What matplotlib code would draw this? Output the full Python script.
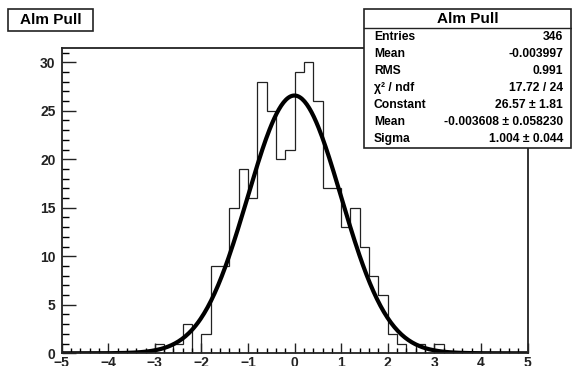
import numpy as np
import matplotlib
matplotlib.use("Agg")
import matplotlib.pyplot as plt
from matplotlib.patches import Rectangle
from matplotlib.ticker import MultipleLocator

plt.rcParams['font.family'] = ['Liberation Sans', 'DejaVu Sans']
plt.rcParams['font.weight'] = 'bold'

# histogram: 50 bins from -5 to 5
bin_lo, bin_hi, n_bins = -5.0, 5.0, 50
counts = [0, 0, 0, 0, 0, 0, 0, 0, 0, 0,
          1, 0, 1, 3, 0, 2, 9, 9, 15, 19,
          16, 28, 25, 20, 21, 29, 30, 26, 17, 17,
          13, 15, 11, 8, 6, 2, 1, 0, 1, 0,
          1, 0, 0, 0, 0, 0, 0, 0, 0, 0]

# gaussian fit result
fit_const = 26.57
fit_mean = -0.003608
fit_sigma = 1.004

title = "Alm Pull"
stat_labels = ["Entries", "Mean", "RMS", "χ² / ndf", "Constant", "Mean", "Sigma"]
stat_values = ["346", "-0.003997", "0.991", "17.72 / 24", "26.57 ± 1.81",
               "-0.003608 ± 0.058230", "1.004 ± 0.044"]

W, H = 572, 366
fig = plt.figure(figsize=(W / 100, H / 100), dpi=100)
ax = fig.add_axes([61.7 / W, 1 - 353.3 / H, (527.5 - 61.7) / W, (353.3 - 47.7) / H])

edges = np.linspace(bin_lo, bin_hi, n_bins + 1)
ax.stairs(counts, edges, color='#222222', linewidth=0.9, baseline=0)

xf = np.linspace(bin_lo, bin_hi, 400)
yf = fit_const * np.exp(-0.5 * ((xf - fit_mean) / fit_sigma) ** 2)
ax.plot(xf, yf, color='black', linewidth=3.0, solid_capstyle='butt')

ax.set_xlim(bin_lo, bin_hi)
ax.set_ylim(0, 31.5)
for side in ['left', 'bottom', 'top', 'right']:
    ax.spines[side].set_linewidth(1.3)
    ax.spines[side].set_color('#222222')

ax.xaxis.set_major_locator(MultipleLocator(1))
ax.xaxis.set_minor_locator(MultipleLocator(0.2))
ax.yaxis.set_major_locator(MultipleLocator(5))
ax.yaxis.set_minor_locator(MultipleLocator(1))
ax.tick_params(axis='x', which='major', direction='in', length=7.2, width=1.0, pad=2, labelsize=10)
ax.tick_params(axis='x', which='minor', direction='in', length=3.6, width=1.0)
ax.tick_params(axis='y', which='major', direction='in', length=10, width=1.0, pad=4.5, labelsize=10)
ax.tick_params(axis='y', which='minor', direction='in', length=5, width=1.0)
ax.tick_params(colors='#222222')
for lab in ax.get_xticklabels() + ax.get_yticklabels():
    lab.set_fontweight('bold')


def px_box(x0, y0, x1, y1, lw):
    r = Rectangle((x0 / W, 1 - y1 / H), (x1 - x0) / W, (y1 - y0) / H,
                  transform=fig.transFigure, facecolor='white', edgecolor='#222222',
                  linewidth=lw, zorder=5)
    fig.add_artist(r)


# title box top left
px_box(8.3, 9.3, 92.7, 30.7, 1.2)
fig.text(50.5 / W, 1 - 20.3 / H, title, ha='center', va='center', fontsize=11,
         fontweight='bold', zorder=6)

# stats box
px_box(364, 9.3, 571, 147.7, 1.2)
fig.add_artist(plt.Line2D([364 / W, 571 / W], [1 - 28.3 / H, 1 - 28.3 / H],
                          transform=fig.transFigure, color='#222222', linewidth=1.0, zorder=6))
fig.text(467.5 / W, 1 - 19 / H, title, ha='center', va='center', fontsize=11,
         fontweight='bold', zorder=6)
for i, (lab, val) in enumerate(zip(stat_labels, stat_values)):
    yy = 1 - (36.7 + 17.1 * i) / H
    fig.text(374 / W, yy, lab, ha='left', va='center', fontsize=8.7, fontweight='bold', zorder=6)
    fig.text(563 / W, yy, val, ha='right', va='center', fontsize=8.7, fontweight='bold', zorder=6)

fig.savefig("out.png", dpi=100)
